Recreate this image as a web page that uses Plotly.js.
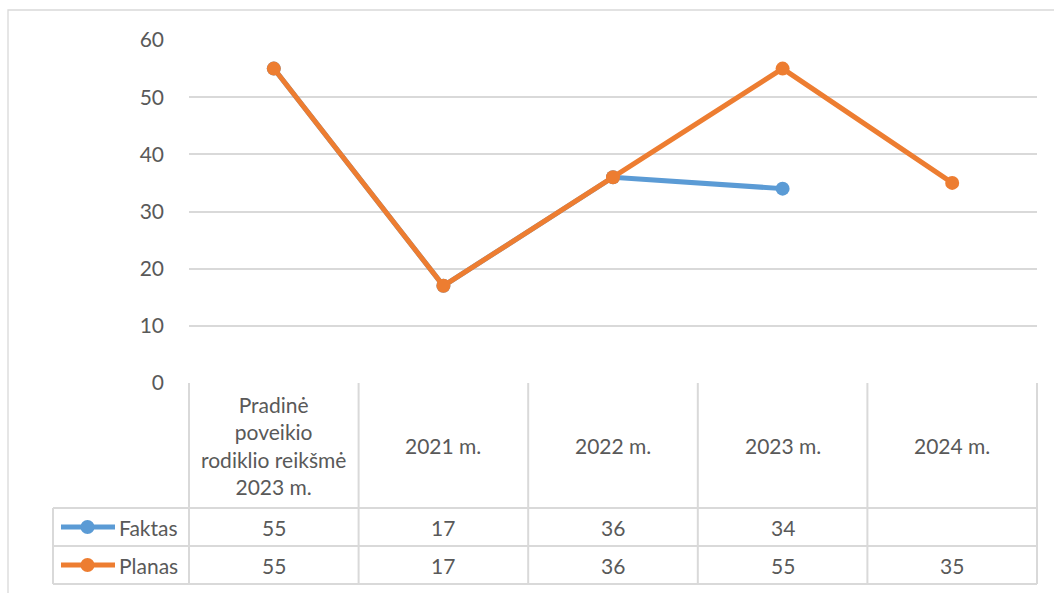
<!DOCTYPE html>
<html>
<head>
<meta charset="utf-8">
<script src="https://cdn.plot.ly/plotly-3.0.1.min.js"></script>
<style>html,body{margin:0;padding:0;background:#fff}#chart{width:1054px;height:593px}</style>
</head>
<body>
<div id="chart"></div>
<script>
// ---- data ----
const categories = ['c0', 'c1', 'c2', 'c3', 'c4'];
const headerLabels = ['Pradinė<br>poveikio<br>rodiklio reikšmė<br>2023 m.', '2021 m.', '2022 m.', '2023 m.', '2024 m.'];
const seriesNames = ['Faktas', 'Planas'];
const faktas = [55, 17, 36, 34, null];
const planas = [55, 17, 36, 55, 35];
const yTicks = [0, 10, 20, 30, 40, 50, 60];

// ---- layout helpers ----
const W = 1054, H = 593;
const mL = 189, mR = 17, mT = 40, mB = 210;
const pw = W - mL - mR, ph = H - mT - mB;
const px = v => (v - mL) / pw;
const py = v => (H - mB - v) / ph;

const colors = ['#5B9BD5', '#ED7D31'];
const gridC = '#D9D9D9';
const txtC = '#595959';
const FONT = 'Lato, "Noto Sans", sans-serif';
const FS = 21;

const allSeries = [faktas, planas];
const traces = allSeries.map((vals, i) => ({
  type: 'scatter', mode: 'lines+markers', name: seriesNames[i],
  x: categories, y: vals,
  line: {color: colors[i], width: 5},
  marker: {color: colors[i], size: 14},
  connectgaps: false, cliponaxis: false
}));

const shapes = [];
const annotations = [];
// outer chart border
shapes.push({type: 'rect', xref: 'paper', yref: 'paper', x0: px(8), x1: px(1060), y0: py(10), y1: py(600), line: {color: gridC, width: 1.3}, layer: 'below'});

// table geometry (pixel rows)
const rowTop = 383, hdrBot = 508, r1Bot = 546, r2Bot = 584, legLeft = 53;
for (let i = 0; i <= categories.length; i++) {
  shapes.push({type: 'line', xref: 'paper', yref: 'paper', x0: i / categories.length, x1: i / categories.length, y0: py(rowTop), y1: py(r2Bot), line: {color: gridC, width: 2}});
}
shapes.push({type: 'line', xref: 'paper', yref: 'paper', x0: px(legLeft), x1: px(legLeft), y0: py(hdrBot), y1: py(r2Bot), line: {color: gridC, width: 2}});
[hdrBot, r1Bot, r2Bot].forEach(r => {
  shapes.push({type: 'line', xref: 'paper', yref: 'paper', x0: px(legLeft), x1: 1, y0: py(r), y1: py(r), line: {color: gridC, width: 2}});
});

// header labels
headerLabels.forEach((lab, i) => {
  annotations.push({xref: 'x', yref: 'paper', x: categories[i], y: py((rowTop + hdrBot) / 2), text: lab, showarrow: false, font: {family: FONT, size: FS, color: txtC}, xanchor: 'center', yanchor: 'middle', align: 'center'});
});
// row values + legend keys
const rowCenters = [(hdrBot + r1Bot) / 2, (r1Bot + r2Bot) / 2];
allSeries.forEach((vals, s) => {
  const yc = py(rowCenters[s]);
  vals.forEach((v, i) => {
    if (v === null) return;
    annotations.push({xref: 'x', yref: 'paper', x: categories[i], y: yc, text: String(v), showarrow: false, font: {family: FONT, size: FS, color: txtC}, xanchor: 'center', yanchor: 'middle'});
  });
  annotations.push({xref: 'paper', yref: 'paper', x: px(117), y: yc, text: seriesNames[s], showarrow: false, font: {family: FONT, size: FS, color: txtC}, xanchor: 'left', yanchor: 'middle'});
  shapes.push({type: 'line', xref: 'paper', yref: 'paper', x0: px(61), x1: px(115), y0: yc, y1: yc, line: {color: colors[s], width: 5}});
  shapes.push({type: 'circle', xref: 'paper', yref: 'paper', x0: px(80.5), x1: px(94.5), y0: yc - 7 / ph, y1: yc + 7 / ph, fillcolor: colors[s], line: {width: 0}});
});

const layout = {
  width: W, height: H,
  margin: {l: mL, r: mR, t: mT, b: mB, pad: 0},
  paper_bgcolor: '#fff', plot_bgcolor: '#fff',
  showlegend: false,
  font: {family: FONT, size: FS, color: txtC},
  xaxis: {type: 'category', categoryarray: categories, range: [-0.5, categories.length - 0.5], showticklabels: false, showgrid: false, zeroline: false, showline: false, ticks: ''},
  yaxis: {range: [0, 60], tickvals: yTicks, ticktext: yTicks.map(String), showgrid: true, gridcolor: gridC, gridwidth: 2, zeroline: false, showline: false, ticks: '', ticklabelstandoff: 24, tickfont: {family: FONT, size: FS, color: txtC}},
  shapes: shapes,
  annotations: annotations
};

Plotly.newPlot('chart', traces, layout, {displayModeBar: false, staticPlot: true});
</script>
</body>
</html>
